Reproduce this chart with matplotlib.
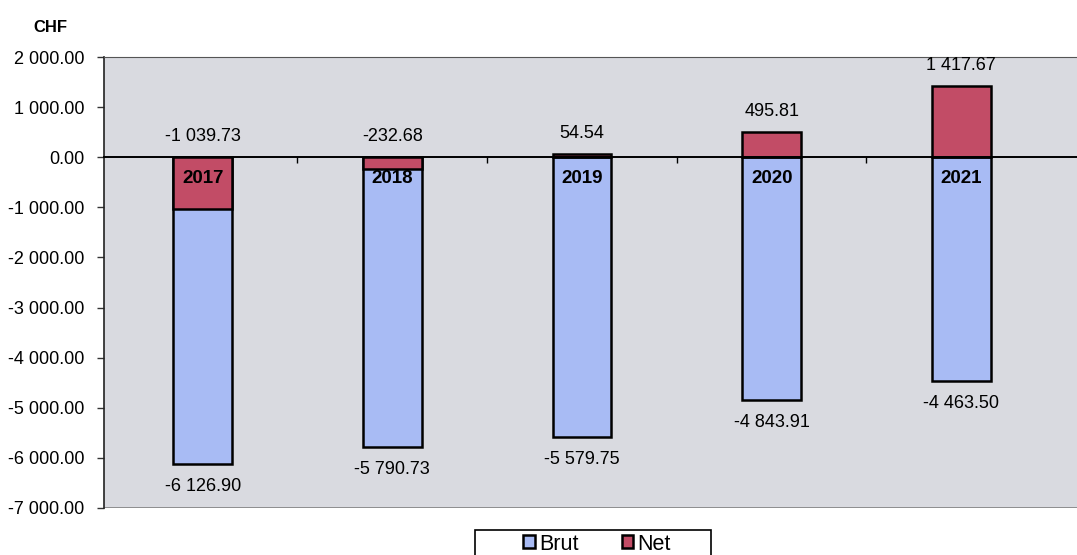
import matplotlib
matplotlib.use("Agg")
import matplotlib.pyplot as plt
from matplotlib.patches import Rectangle
from matplotlib.ticker import FuncFormatter

plt.rcParams["font.family"] = ["Liberation Sans", "DejaVu Sans"]

YEARS = ["2017", "2018", "2019", "2020", "2021"]
BRUT = [-6126.90, -5790.73, -5579.75, -4843.91, -4463.50]
NET = [-1039.73, -232.68, 54.54, 495.81, 1417.67]
Y_TICKS = [2000, 1000, 0, -1000, -2000, -3000, -4000, -5000, -6000, -7000]

BLUE = "#a8bbf4"
RED = "#c24c66"
PLOT_BG = "#d9dae0"

W, H = 1077, 555


def fmt_chf(v, pos=None):
    s = f"{abs(v):,.2f}".replace(",", " ")
    return ("-" if v < 0 else "") + s


fig = plt.figure(figsize=(W / 100, H / 100), dpi=100)
ax = fig.add_axes([104 / W, 1 - 508 / H, 1 - 104 / W, (508 - 57) / H])
ax.set_facecolor(PLOT_BG)

x = list(range(len(YEARS)))
w = 0.31
ax.bar(x, BRUT, width=w, color=BLUE, edgecolor="black", linewidth=1.8, label="Brut", zorder=3)
ax.bar(x, NET, width=w, color=RED, edgecolor="black", linewidth=1.8, label="Net", zorder=4)

for i in x:
    top = max(NET[i], 0)
    ax.annotate(fmt_chf(NET[i]), (i, top), xytext=(0, 15), textcoords="offset points",
                ha="center", va="center", fontsize=13, zorder=5)
    ax.annotate(fmt_chf(BRUT[i]), (i, BRUT[i]), xytext=(0, -16), textcoords="offset points",
                ha="center", va="center", fontsize=13, zorder=5)
    ax.annotate(YEARS[i], (i, 0), xytext=(0, -15.5), textcoords="offset points",
                ha="center", va="center", fontsize=13.5, fontweight="bold", zorder=5)

ax.set_ylim(-7000, 2000)
ax.set_xlim(-0.52, 4.61)
ax.set_yticks(Y_TICKS)
ax.yaxis.set_major_formatter(FuncFormatter(fmt_chf))
ax.tick_params(axis="y", labelsize=13, length=5, width=1, color="#333333", pad=9)

# x axis drawn at zero, ticks between categories
ax.spines["bottom"].set_position(("data", 0))
ax.spines["bottom"].set_linewidth(1.4)
ax.spines["bottom"].set_zorder(4.5)
ax.set_xticks([i + 0.5 for i in range(len(YEARS) - 1)])
ax.set_xticklabels([])
ax.tick_params(axis="x", length=4, width=1, direction="out")
ax.spines["right"].set_visible(False)
ax.spines["top"].set_color("#555555")
ax.spines["left"].set_color("#222222")
ax.spines["left"].set_linewidth(1.2)
ax.axhline(-7000, color="#777777", linewidth=1.8, zorder=2)

fig.text(33 / W, 1 - 28 / H, "CHF", fontsize=12, fontweight="bold", va="center")

# legend box (Excel style, cut by the image bottom)
fig.patches.append(Rectangle((475 / W, 1 - 570 / H), (711 - 475) / W, 40 / H,
                             transform=fig.transFigure, facecolor="white",
                             edgecolor="black", linewidth=1.2, zorder=0))
fig.legend(loc="center", bbox_to_anchor=(597 / W, 1 - 544 / H), ncol=2,
           fontsize=15.5, frameon=False,
           handlelength=0.55, handleheight=0.55, handletextpad=0.2, columnspacing=2.0,
           borderpad=0.0)

fig.savefig("out.png", dpi=100)
